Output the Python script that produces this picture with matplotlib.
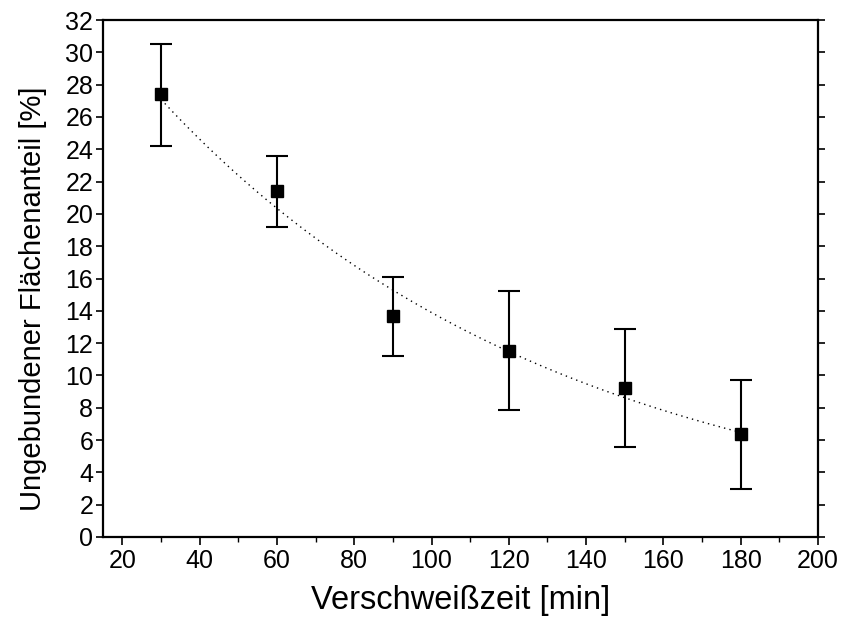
import numpy as np
import matplotlib
matplotlib.use("Agg")
import matplotlib.pyplot as plt
from matplotlib.ticker import MultipleLocator

plt.rcParams['font.family'] = ['Liberation Sans', 'DejaVu Sans']

# Data
zeit = [30, 60, 90, 120, 150, 180]
anteil = [27.4, 21.4, 13.7, 11.5, 9.2, 6.35]
err_upper = [30.5, 23.6, 16.1, 15.25, 12.9, 9.7]
err_lower = [24.2, 19.2, 11.2, 7.85, 5.55, 2.95]
x_ticks = [20, 40, 60, 80, 100, 120, 140, 160, 180, 200]
y_ticks = list(range(0, 33, 2))

fig = plt.figure(figsize=(8.43, 6.18), dpi=100)
ax = fig.add_axes([0.1222, 0.1311, 0.9703 - 0.1222, 0.9676 - 0.1311])

x = np.array(zeit, dtype=float)
y = np.array(anteil)
yerr = np.array([y - np.array(err_lower), np.array(err_upper) - y])

# exponential fit (derived from data)
coef = np.polyfit(x, np.log(y), 1)
xf = np.linspace(x.min(), x.max(), 200)
yf = np.exp(np.polyval(coef, xf))
ax.plot(xf, yf, linestyle=(0, (1, 3)), color='black', linewidth=1.0, zorder=2)

ax.errorbar(x, y, yerr=yerr, fmt='s', color='black', markersize=9,
            ecolor='black', elinewidth=1.5, capsize=8, capthick=1.5, zorder=3)

ax.set_xlim(15, 200)
ax.set_ylim(0, 32)
ax.set_xticks(x_ticks)
ax.set_yticks(y_ticks)
ax.xaxis.set_minor_locator(MultipleLocator(10))

for s in ax.spines.values():
    s.set_linewidth(1.6)

ax.tick_params(axis='x', which='major', direction='out', length=6, width=1.2,
               labelsize=18, pad=3)
ax.tick_params(axis='x', which='minor', direction='out', length=3.5, width=1.0)
ax.tick_params(axis='y', which='major', direction='out', length=5, width=1.2,
               labelsize=18, pad=2)
ax.tick_params(axis='y', which='major', right=True, labelright=False)

ax.set_xlabel('Verschweißzeit [min]', fontsize=23.5, labelpad=8)
ax.set_ylabel('Ungebundener Flächenanteil [%]', fontsize=21)
ax.yaxis.set_label_coords(-0.078, 0.46)

fig.savefig('out.png', dpi=100)
